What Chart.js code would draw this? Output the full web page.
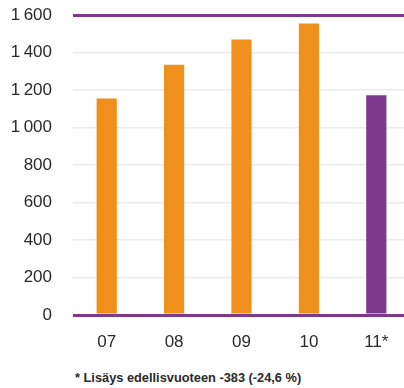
<!DOCTYPE html>
<html>
<head>
<meta charset="utf-8">
<script src="https://cdn.jsdelivr.net/npm/chart.js@4"></script>
<style>
  body { margin: 0; width: 404px; height: 388px; overflow: hidden; background: #fff; position: relative; }
  #wrap { position: absolute; left: 0; top: -16px; width: 410px; height: 372px; }
  #note { position: absolute; left: 75px; top: 370px; font: bold 12.8px "Liberation Sans", Arial, sans-serif; color: #2a2a2a; white-space: nowrap; }
</style>
</head>
<body>
<div id="wrap"><canvas id="volumeChart"></canvas></div>
<div id="note">* Lisäys edellisvuoteen -383 (-24,6 %)</div>
<script>
// Yearly figures, 2011 highlighted
const years = ["07", "08", "09", "10", "11*"];
const values = [1155, 1335, 1470, 1556, 1173];
const barColors = ["#f0901c", "#f0901c", "#f0901c", "#f0901c", "#7d3a8c"];
const yTicks = [0, 200, 400, 600, 800, 1000, 1200, 1400, 1600];

const purple = "#7d3a8c";

const ctx = document.getElementById("volumeChart").getContext("2d");
const volumeChart = new Chart(ctx, {
  type: "bar",
  data: {
    labels: years,
    datasets: [
      {
        data: values,
        backgroundColor: barColors,
        barPercentage: 0.3,
        categoryPercentage: 1,
      },
    ],
  },
  options: {
    responsive: true,
    maintainAspectRatio: false,
    animation: false,
    layout: { padding: { top: 8, left: 0, right: 0, bottom: 0 } },
    plugins: { legend: { display: false }, tooltip: { enabled: false } },
    scales: {
      x: {
        grid: { display: false },
        border: { display: false },
        ticks: {
          color: "#2a2a2a",
          padding: 9,
          font: { family: "Liberation Sans", size: 17 },
        },
        afterFit: function (scale) {
          scale.height = 41;
        },
      },
      y: {
        min: 0,
        max: 1600,
        border: { display: false },
        afterBuildTicks: function (scale) {
          scale.ticks = yTicks.map(function (v) { return { value: v }; });
        },
        afterFit: function (scale) {
          scale.width = 73;
        },
        grid: {
          drawTicks: false,
          color: function (c) {
            return c.tick.value === 0 || c.tick.value === 1600 ? purple : "#ececec";
          },
          lineWidth: function (c) {
            return c.tick.value === 0 || c.tick.value === 1600 ? 3 : 1.5;
          },
        },
        ticks: {
          color: "#2a2a2a",
          padding: 21,
          font: { family: "Liberation Sans", size: 17 },
          callback: function (v) {
            return v >= 1000 ? Math.floor(v / 1000) + "\u2009" + String(v % 1000).padStart(3, "0") : String(v);
          },
        },
      },
    },
  },
});
</script>
</body>
</html>
